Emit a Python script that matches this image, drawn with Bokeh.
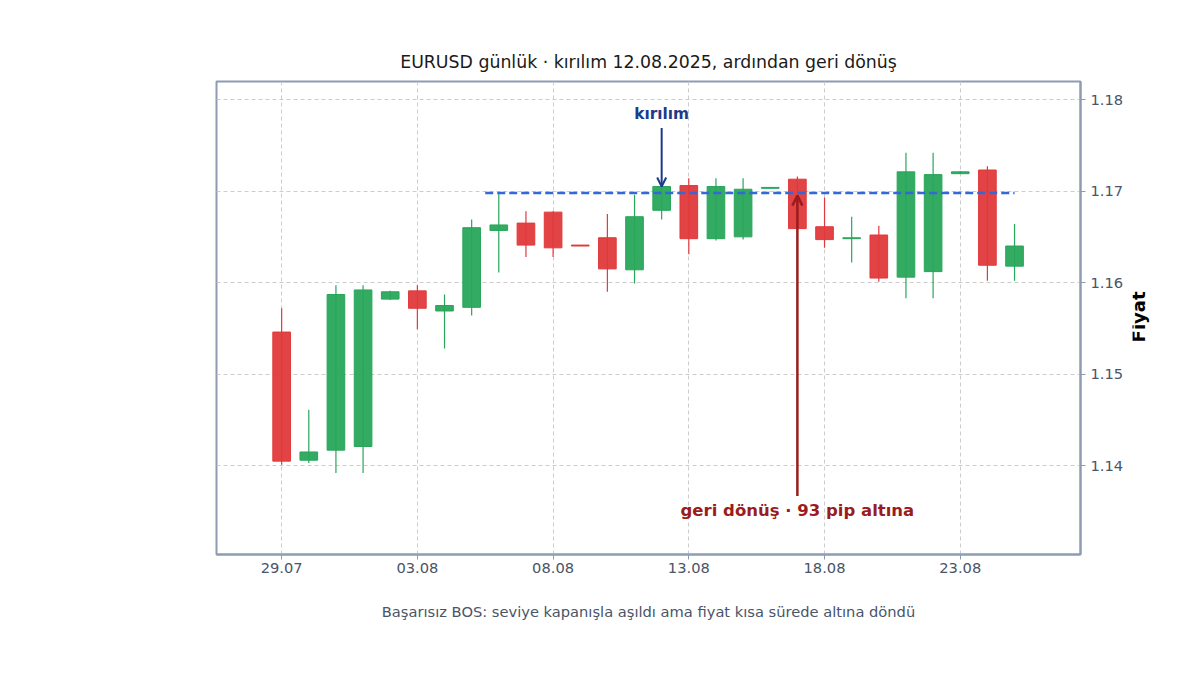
import math

import pandas as pd
from bokeh.embed import file_html
from bokeh.layouts import row
from bokeh.models import (Arrow, ColumnDataSource, DatetimeTickFormatter, FixedTicker,
                          Label, OpenHead, PrintfTickFormatter, Range1d)
from bokeh.plotting import figure
from bokeh.resources import INLINE

# daily EURUSD candles, 29.07 - 25.08.2025
dates = pd.date_range("2025-07-29", "2025-08-25", freq="D")
opens = [1.1546, 1.1406, 1.1417, 1.1421, 1.1582, 1.1591, 1.1569, 1.1573, 1.1657, 1.1665,
         1.1677, 1.1641, 1.1649, 1.1614, 1.1679, 1.1706, 1.1648, 1.1650, 1.1703, 1.1713,
         1.1661, 1.1648, 1.1652, 1.1606, 1.1612, 1.1719, 1.1723, 1.1618]
highs = [1.1572, 1.1461, 1.1597, 1.1597, 1.1591, 1.1597, 1.1587, 1.1669, 1.1698, 1.1678,
         1.1678, 1.1641, 1.1675, 1.1696, 1.1706, 1.1714, 1.1714, 1.1714, 1.1704, 1.1716,
         1.1693, 1.1672, 1.1662, 1.1742, 1.1742, 1.1722, 1.1727, 1.1664]
lows = [1.1401, 1.1403, 1.1392, 1.1392, 1.1581, 1.1549, 1.1528, 1.1564, 1.1611, 1.1628,
        1.1628, 1.1640, 1.1590, 1.1599, 1.1669, 1.1631, 1.1646, 1.1647, 1.1703, 1.1658,
        1.1638, 1.1622, 1.1601, 1.1583, 1.1583, 1.1719, 1.1602, 1.1602]
closes = [1.1405, 1.1415, 1.1587, 1.1592, 1.1590, 1.1572, 1.1575, 1.1660, 1.1663, 1.1641,
          1.1638, 1.1640, 1.1615, 1.1672, 1.1705, 1.1648, 1.1705, 1.1702, 1.1704, 1.1659,
          1.1647, 1.1649, 1.1605, 1.1721, 1.1718, 1.1721, 1.1619, 1.1640]

level = 1.1698
level_start = pd.Timestamp("2025-08-05 12:00")
level_end = pd.Timestamp("2025-08-25")
break_day = pd.Timestamp("2025-08-12")
break_close = 1.1705
reversal_day = pd.Timestamp("2025-08-17")
pips_below = 93

UP = "#28a65a"
DOWN = "#e0393b"

df = pd.DataFrame(dict(date=dates, open=opens, high=highs, low=lows, close=closes))
df["top"] = df[["open", "close"]].max(axis=1)
df["bottom"] = df[["open", "close"]].min(axis=1)
df["color"] = [UP if c > o else DOWN for o, c in zip(df.open, df.close)]
src = ColumnDataSource(df)

W, H = 1132, 659
day = pd.Timedelta(days=1)
y_lo, y_hi = 1.1303, 1.18197
p = figure(width=W, height=H, x_axis_type="datetime", y_axis_location="right",
           x_range=Range1d(dates[0] - 2.4 * day, dates[-1] + 2.43 * day),
           y_range=Range1d(y_lo, y_hi),
           output_backend="svg", toolbar_location=None,
           title="EURUSD günlük · kırılım 12.08.2025, ardından geri dönüş",
           min_border_left=216, min_border_right=52, min_border_top=81, min_border_bottom=105)

p.title.align = "center"
p.title.text_font = "DejaVu Sans"
p.title.text_font_size = "17.33px"
p.title.text_font_style = "normal"
p.title.text_color = "#1a1a1a"
p.title.standoff = 19

p.outline_line_color = "#8e9cb2"
p.outline_line_width = 2
p.background_fill_color = "white"
p.border_fill_color = "white"

p.grid.grid_line_color = "#cccccc"
p.grid.grid_line_dash = "4 3"
p.grid.grid_line_width = 1

p.xaxis.ticker = FixedTicker(ticks=[d.value // 10**6 for d in pd.date_range("2025-07-29", periods=6, freq="5D")])
p.xaxis.formatter = DatetimeTickFormatter(days="%d.%m", months="%d.%m")
p.xaxis.axis_label = "Başarısız BOS: seviye kapanışla aşıldı ama fiyat kısa sürede altına döndü"
p.xaxis.axis_label_standoff = 27
p.xaxis.axis_label_text_font_size = "14.67px"
p.xaxis.axis_label_text_font_style = "normal"
p.xaxis.axis_label_text_color = "#4a5568"
p.xaxis.major_label_standoff = 3

p.yaxis.ticker = FixedTicker(ticks=[1.14, 1.15, 1.16, 1.17, 1.18])
p.yaxis.formatter = PrintfTickFormatter(format="%.2f")
p.yaxis.major_label_standoff = 5

for ax in (p.xaxis, p.yaxis):
    ax.axis_line_color = "#8e9cb2"
    ax.axis_line_width = 2
    ax.major_tick_line_color = "#8e9cb2"
    ax.major_tick_out = 5
    ax.major_tick_in = 0
    ax.minor_tick_line_color = None
    ax.major_label_text_font = "DejaVu Sans"
    ax.major_label_text_font_size = "14.67px"
    ax.major_label_text_color = "#4a5568"
    ax.axis_label_text_font = "DejaVu Sans"

# wicks and bodies
p.segment(x0="date", y0="high", x1="date", y1="low", color="color", line_width=1.2, source=src)
p.vbar(x="date", width=0.65 * 86400000, top="top", bottom="bottom",
       fill_color="color", line_color="color", line_width=1, fill_alpha=0.95, source=src)

# broken level
p.line([level_start, level_end], [level, level], line_color="#3468d8", line_width=2.5,
       line_dash="8 4")

# breakout annotation
p.add_layout(Arrow(end=OpenHead(size=9, line_color="#1e3a8a", line_width=2),
                   x_start=break_day, y_start=1.1769, x_end=break_day, y_end=break_close,
                   line_color="#1e3a8a", line_width=2))
p.add_layout(Label(x=break_day, y=1.17847, text="kırılım", text_align="center",
                   text_baseline="alphabetic", text_font="DejaVu Sans", text_font_size="15.33px",
                   text_font_style="bold", text_color="#1e3a8a"))

# reversal annotation
p.add_layout(Arrow(end=OpenHead(size=10, line_color="#9b1c1c", line_width=2.5),
                   x_start=reversal_day, y_start=1.1367, x_end=reversal_day, y_end=1.1695,
                   line_color="#9b1c1c", line_width=2.5))
p.add_layout(Label(x=reversal_day, y=1.13506, text=f"geri dönüş · {pips_below} pip altına",
                   text_align="center", text_baseline="alphabetic", text_font="DejaVu Sans",
                   text_font_size="16.5px", text_font_style="bold", text_color="#9b1c1c"))

# narrow strip to the right carrying the y axis title, read upwards
side_w = 1184 - W
side = figure(width=side_w, height=H, x_range=Range1d(0, side_w), y_range=Range1d(0, H),
              x_axis_type=None, y_axis_type=None, output_backend="svg", toolbar_location=None,
              min_border=0, outline_line_color=None)
side.grid.visible = False
side.add_layout(Label(x=6, y=331, text="Fiyat", angle=math.pi / 2, text_align="center",
                      text_baseline="middle", text_font="DejaVu Sans", text_font_size="18px",
                      text_font_style="bold", text_color="black"))

open("out.html", "w").write(file_html(row(p, side, spacing=0), INLINE))
